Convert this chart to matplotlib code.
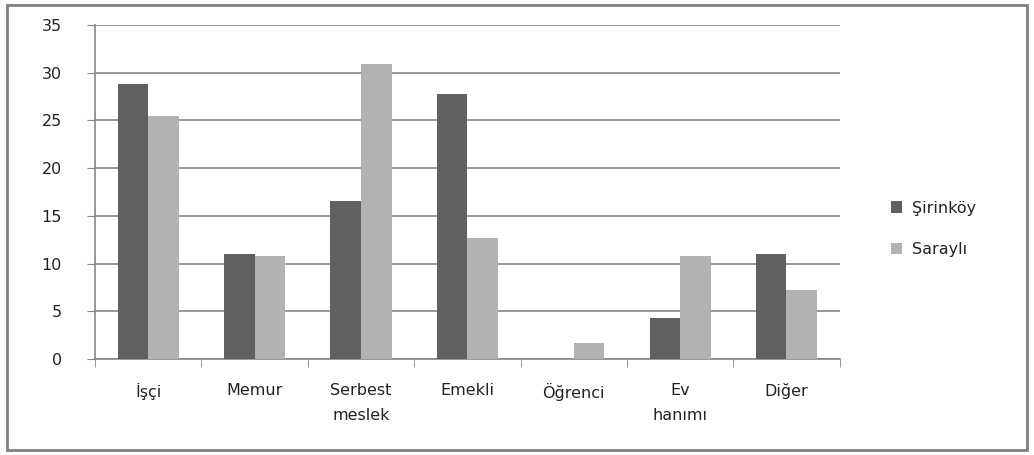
import matplotlib
matplotlib.use('Agg')
import matplotlib.pyplot as plt
import matplotlib.patches as patches
import numpy as np

categories = ['İşçi', 'Memur', 'Serbest\nmeslek', 'Emekli', 'Öğrenci', 'Ev\nhanımı', 'Diğer']
sirinkoy = [28.8, 11.0, 16.6, 27.8, 0.0, 4.3, 11.0]
sarayli = [25.5, 10.8, 30.9, 12.7, 1.7, 10.8, 7.2]
series_names = ['Şirinköy', 'Saraylı']

fig = plt.figure(figsize=(10.34, 4.55), dpi=100)
ax = fig.add_axes([0.092, 0.211, 0.72, 0.734])

x = np.arange(len(categories))
w = 0.287
ax.bar(x - w / 2, sirinkoy, w, color='#606060', label=series_names[0], zorder=3)
ax.bar(x + w / 2, sarayli, w, color='#b2b2b2', label=series_names[1], zorder=3)

ax.set_xlim(-0.5, len(categories) - 0.5)
ax.set_ylim(0, 35)
ax.set_yticks(range(0, 36, 5))
ax.yaxis.grid(True, color='#868686', lw=1.2, zorder=0)
ax.set_xticks(x)
ax.set_xticklabels(categories, fontsize=11.5, linespacing=1.9, color='#222222')
ax.set_xticks(np.arange(-0.5, len(categories), 1), minor=True)
ax.tick_params(axis='x', which='major', length=0, pad=17)
ax.tick_params(axis='x', which='minor', length=6, color='#868686')
ax.tick_params(axis='y', length=6, color='#868686', labelsize=11.5, labelcolor='#222222', pad=18)
for s in ['top', 'right']:
    ax.spines[s].set_visible(False)
for s in ['left', 'bottom']:
    ax.spines[s].set_color('#868686')
    ax.spines[s].set_linewidth(1.2)

leg = ax.legend(loc='center left', bbox_to_anchor=(1.05, 0.39), frameon=False,
                fontsize=11.5, handlelength=0.7, handleheight=0.7, labelspacing=1.65,
                handletextpad=0.6)
for t in leg.get_texts():
    t.set_color('#222222')

fig.patches.append(patches.Rectangle((0.007, 0.01), 0.986, 0.98, transform=fig.transFigure,
                                     fill=False, edgecolor='#808080', lw=2))

plt.savefig('out.png')
